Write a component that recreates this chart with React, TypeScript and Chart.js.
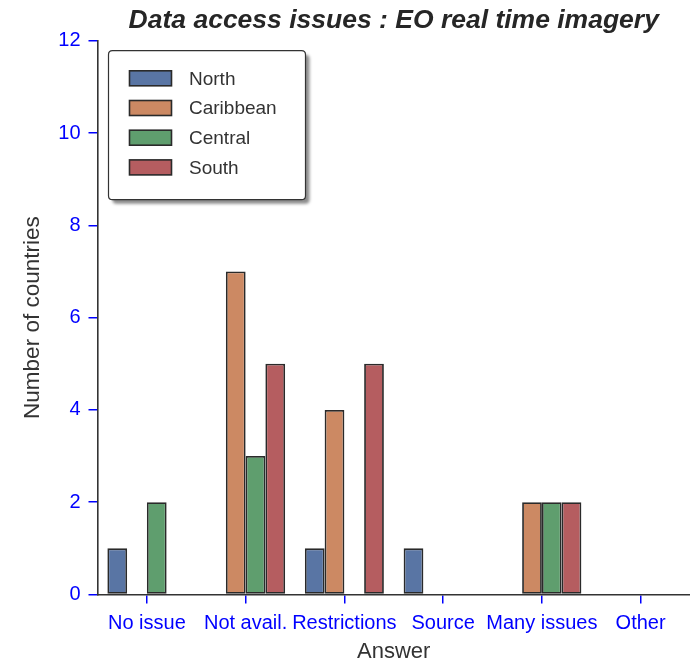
import React, { useEffect, useRef } from 'react';
import { Chart, registerables } from 'chart.js';

Chart.register(...registerables);

const categories = ['No issue', 'Not avail.', 'Restrictions', 'Source', 'Many issues', 'Other'];
const north = [1, 0, 1, 1, 0, 0];
const caribbean = [0, 7, 4, 0, 2, 0];
const central = [2, 3, 0, 0, 2, 0];
const south = [0, 5, 5, 0, 2, 0];
const seriesNames = ['North', 'Caribbean', 'Central', 'South'];
const seriesColors = ['#5975a4', '#cc8963', '#5f9e6e', '#b55d60'];
const yMin = 0;
const yMax = 12;
const yStep = 2;

const FONT = '"Liberation Sans", Arial, Helvetica, sans-serif';
const EDGE = '#2a2a2a';
const TICK_BLUE = '#0000ff';

function roundRect(ctx: CanvasRenderingContext2D, x: number, y: number, w: number, h: number, r: number) {
  ctx.beginPath();
  ctx.moveTo(x + r, y);
  ctx.lineTo(x + w - r, y);
  ctx.quadraticCurveTo(x + w, y, x + w, y + r);
  ctx.lineTo(x + w, y + h - r);
  ctx.quadraticCurveTo(x + w, y + h, x + w - r, y + h);
  ctx.lineTo(x + r, y + h);
  ctx.quadraticCurveTo(x, y + h, x, y + h - r);
  ctx.lineTo(x, y + r);
  ctx.quadraticCurveTo(x, y, x + r, y);
  ctx.closePath();
}

const boxLegend = {
  id: 'boxLegend',
  afterDraw(chart: any) {
    const ctx: CanvasRenderingContext2D = chart.ctx;
    const ca = chart.chartArea;
    const x = ca.left + 11;
    const y = ca.top + 10;
    const w = 197;
    const h = 149;
    ctx.save();
    ctx.fillStyle = 'rgba(0,0,0,0.45)';
    ctx.filter = 'blur(1.5px)';
    roundRect(ctx, x + 4, y + 4, w, h, 4);
    ctx.fill();
    ctx.filter = 'none';
    ctx.fillStyle = '#ffffff';
    roundRect(ctx, x, y, w, h, 4);
    ctx.fill();
    ctx.strokeStyle = '#333333';
    ctx.lineWidth = 1.2;
    ctx.stroke();
    ctx.font = `19px ${FONT}`;
    ctx.textBaseline = 'middle';
    ctx.textAlign = 'left';
    chart.data.datasets.forEach((ds: any, i: number) => {
      const cy = y + 27.6 + i * 29.7;
      ctx.fillStyle = ds.backgroundColor;
      ctx.fillRect(x + 21, cy - 7.5, 42, 15);
      ctx.strokeStyle = EDGE;
      ctx.lineWidth = 1.6;
      ctx.strokeRect(x + 21, cy - 7.5, 42, 15);
      ctx.fillStyle = '#333333';
      ctx.fillText(ds.label, x + 80.5, cy + 1);
    });
    ctx.restore();
  },
};

export default function App() {
  const ref = useRef<HTMLCanvasElement | null>(null);

  useEffect(() => {
    document.body.style.margin = '0';
    if (!ref.current) return;
    const seriesData = [north, caribbean, central, south];
    const chart = new Chart(ref.current, {
      type: 'bar',
      data: {
        labels: categories,
        datasets: seriesNames.map((name, i) => ({
          label: name,
          data: seriesData[i],
          backgroundColor: seriesColors[i],
          borderColor: EDGE,
          borderWidth: 1.8,
          borderSkipped: false,
          categoryPercentage: 0.8,
          barPercentage: 1.0,
        })),
      },
      options: {
        responsive: false,
        animation: false,
        devicePixelRatio: 1,
        layout: { padding: { left: 0, right: 0, top: 0, bottom: 0 } },
        plugins: {
          legend: { display: false },
          tooltip: { enabled: false },
          title: {
            display: true,
            text: 'Data access issues : EO real time imagery',
            fullSize: false,
            color: '#262626',
            font: { family: FONT, size: 26.5, weight: 'bold', style: 'italic' },
            padding: { top: 5, bottom: 3.9 },
          },
        },
        scales: {
          x: {
            type: 'category',
            offset: true,
            grid: {
              display: true,
              drawOnChartArea: false,
              drawTicks: true,
              tickLength: 9,
              color: TICK_BLUE,
              lineWidth: 1.5,
              offset: false,
            },
            border: { display: true, color: '#333333', width: 1.6 },
            ticks: {
              color: TICK_BLUE,
              font: { family: FONT, size: 20 },
              padding: 8,
              maxRotation: 0,
              minRotation: 0,
              autoSkip: false,
            },
            title: {
              display: true,
              text: 'Answer',
              color: '#333333',
              font: { family: FONT, size: 22 },
              padding: { top: 0, bottom: 0 },
            },
            afterFit: (s: any) => {
              s.height = 70.5;
            },
          },
          y: {
            min: yMin,
            max: yMax,
            grid: {
              display: true,
              drawOnChartArea: false,
              drawTicks: true,
              tickLength: 9,
              color: TICK_BLUE,
              lineWidth: 1.5,
            },
            border: { display: true, color: '#333333', width: 1.6 },
            ticks: {
              stepSize: yStep,
              color: TICK_BLUE,
              font: { family: FONT, size: 20 },
              padding: 8,
            },
            title: {
              display: true,
              text: 'Number of countries',
              color: '#333333',
              font: { family: FONT, size: 22.5 },
              padding: { top: 19.5, bottom: 0 },
            },
            afterFit: (s: any) => {
              s.width = 97.5;
            },
          },
        },
      },
      plugins: [boxLegend],
    } as any);
    return () => chart.destroy();
  }, []);

  return (
    <div style={{ width: 690, height: 665 }}>
      <canvas ref={ref} width={690} height={665} style={{ display: 'block' }} />
    </div>
  );
}
